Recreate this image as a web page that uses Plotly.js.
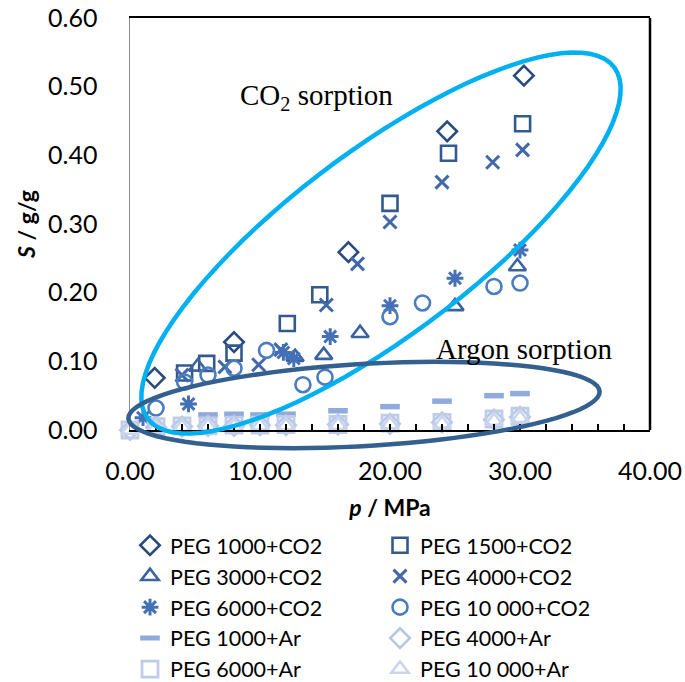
<!DOCTYPE html>
<html>
<head>
<meta charset="utf-8">
<script src="https://cdn.plot.ly/plotly-3.0.1.min.js"></script>
<style>html,body{margin:0;padding:0;background:#fff;}#chart{width:685px;height:682px;}</style>
</head>
<body>
<div id="chart"></div>
<script>
// ---- data (p in MPa, S in g/g) ----
const peg1000co2_p = [1.9, 8.0, 16.8, 24.4, 30.3];
const peg1000co2_s = [0.076, 0.128, 0.259, 0.435, 0.516];

const peg1500co2_p = [4.2, 5.9, 8.0, 12.1, 14.6, 20.0, 24.5, 30.2];
const peg1500co2_s = [0.083, 0.097, 0.112, 0.155, 0.197, 0.330, 0.403, 0.446];

const peg3000co2_p = [5.2, 12.7, 14.9, 17.7, 25.0, 29.8];
const peg3000co2_s = [0.092, 0.106, 0.109, 0.141, 0.180, 0.238];

const peg4000co2_p = [4.0, 7.3, 9.9, 11.6, 15.1, 17.5, 20.0, 24.0, 27.9, 30.2];
const peg4000co2_s = [0.080, 0.092, 0.095, 0.117, 0.182, 0.242, 0.303, 0.361, 0.390, 0.408];

const peg6000co2_p = [1.0, 4.5, 11.8, 12.6, 15.4, 20.0, 25.0, 30.0];
const peg6000co2_s = [0.018, 0.038, 0.113, 0.104, 0.136, 0.181, 0.221, 0.262];

const peg10000co2_p = [2.0, 4.2, 6.0, 8.0, 10.5, 13.3, 15.0, 20.0, 22.5, 28.0, 30.0];
const peg10000co2_s = [0.032, 0.070, 0.080, 0.090, 0.116, 0.066, 0.077, 0.165, 0.185, 0.209, 0.214];

const peg1000ar_p = [6, 8, 10, 12, 16, 20, 24, 28, 30];
const peg1000ar_s = [0.022, 0.023, 0.022, 0.023, 0.028, 0.034, 0.042, 0.050, 0.053];

const ar_p = [0, 2, 4, 6, 8, 10, 12, 16, 20, 24, 28, 30];
const peg4000ar_s  = [0.000, 0.004, 0.005, 0.006, 0.006, 0.007, 0.007, 0.008, 0.009, 0.011, 0.015, 0.019];
const peg6000ar_s  = [0.000, 0.005, 0.006, 0.006, 0.007, 0.007, 0.008, 0.008, 0.010, 0.011, 0.016, 0.020];
const peg10000ar_s = [0.000, 0.003, 0.004, 0.005, 0.005, 0.006, 0.006, 0.007, 0.008, 0.009, 0.013, 0.017];

const seriesNames = ['PEG 1000+CO2', 'PEG 1500+CO2', 'PEG 3000+CO2', 'PEG 4000+CO2', 'PEG 6000+CO2',
  'PEG 10 000+CO2', 'PEG 1000+Ar', 'PEG 4000+Ar', 'PEG 6000+Ar', 'PEG 10 000+Ar'];
const xTickVals = [0, 10, 20, 30, 40];
const xTickText = ['0.00', '10.00', '20.00', '30.00', '40.00'];
const yTickVals = [0, 0.1, 0.2, 0.3, 0.4, 0.5, 0.6];
const yTickText = ['0.00', '0.10', '0.20', '0.30', '0.40', '0.50', '0.60'];
const annoTexts = ['CO<sub>2</sub> sorption', 'Argon sorption'];

// ---- styling ----
function tr(x, y, name, symbol, color, size, lw) {
  return {type: 'scatter', mode: 'markers', x: x, y: y, name: name, cliponaxis: false,
    marker: {symbol: symbol, size: size, color: color, line: {color: color, width: lw}}};
}
const data = [
  tr(peg1000co2_p, peg1000co2_s, seriesNames[0], 'diamond-open', '#2B4B7E', 15, 2.6),
  tr(peg1500co2_p, peg1500co2_s, seriesNames[1], 'square-open', '#335A8F', 15, 2.6),
  tr(peg3000co2_p, peg3000co2_s, seriesNames[2], 'triangle-up-open', '#3A63A0', 15, 2.6),
  tr(peg4000co2_p, peg4000co2_s, seriesNames[3], 'x-thin-open', '#4169AA', 13, 3),
  tr(peg6000co2_p, peg6000co2_s, seriesNames[4], 'asterisk-open', '#4470B5', 14, 3),
  tr(peg10000co2_p, peg10000co2_s, seriesNames[5], 'circle-open', '#4A7CC0', 15, 2.6),
  tr(peg1000ar_p, peg1000ar_s, seriesNames[6], 'line-ew-open', '#8FAADC', 14, 5.5),
  tr(ar_p, peg4000ar_s, seriesNames[7], 'diamond-open', '#B4C7E7', 15, 2.6),
  tr(ar_p, peg6000ar_s, seriesNames[8], 'square-open', '#BFCCE6', 16, 2.8),
  tr(ar_p, peg10000ar_s, seriesNames[9], 'triangle-up-open', '#C9D5EC', 15, 2.6)
];

// plot area in pixels
const L = 130, R = 650, T = 18, B = 430, W = 685, H = 682;
const PW = R - L, PH = B - T;
function ellipsePath(cx, cy, a, b, angDeg) {
  const th = angDeg * Math.PI / 180, n = 90;
  let s = '';
  for (let i = 0; i <= n; i++) {
    const t = 2 * Math.PI * i / n;
    const px = cx + a * Math.cos(t) * Math.cos(th) - b * Math.sin(t) * Math.sin(th);
    const py = cy + a * Math.cos(t) * Math.sin(th) + b * Math.sin(t) * Math.cos(th);
    const X = (px - L) / PW, Y = (B - py) / PH;
    s += (i === 0 ? 'M' : 'L') + X.toFixed(5) + ',' + Y.toFixed(5);
  }
  return s + 'Z';
}

const tickFont = {family: 'Lato, "Open Sans", sans-serif', size: 25, color: '#000'};
const layout = {
  width: W, height: H,
  margin: {l: L, r: W - R, t: T, b: H - B, autoexpand: false},
  paper_bgcolor: '#fff', plot_bgcolor: '#fff',
  showlegend: true,
  xaxis: {
    range: [0, 40], tickvals: xTickVals, ticktext: xTickText, tickfont: tickFont,
    showgrid: false, zeroline: false, showline: true, linecolor: '#000', linewidth: 2, mirror: true,
    ticks: 'inside', ticklen: 6, tickwidth: 1.2, tickcolor: '#000', ticklabelstandoff: 18,
    minor: {dtick: 2, ticks: 'inside', ticklen: 6, tickwidth: 1.2, tickcolor: '#000', showgrid: false},
    title: {text: '<b><i>p</i> / MPa</b>', font: {family: 'Lato, sans-serif', size: 23, color: '#000'}, standoff: 16},
    automargin: false, fixedrange: true
  },
  yaxis: {
    range: [0, 0.6], tickvals: yTickVals, ticktext: yTickText, tickfont: tickFont,
    showgrid: false, zeroline: false, showline: true, linecolor: '#8C8C8C', linewidth: 1.5,
    ticks: '', ticklabelstandoff: 26,
    title: {text: '<b><i>S</i> / g/g</b>', font: {family: 'Lato, sans-serif', size: 23, color: '#000'}, standoff: 6},
    automargin: false, fixedrange: true
  },
  legend: {
    orientation: 'h', x: 0, xanchor: 'left', y: -0.23, yanchor: 'top',
    font: {family: 'Lato, "Open Sans", sans-serif', size: 21.5, color: '#000'},
    entrywidth: 205, entrywidthmode: 'pixels', tracegroupgap: 0, itemwidth: 30,
    bgcolor: 'rgba(0,0,0,0)', borderwidth: 0
  },
  shapes: [
    {type: 'line', xref: 'paper', yref: 'paper', x0: 1, x1: 1, y0: 0, y1: 1, line: {color: '#000', width: 2.5}},
    {type: 'path', xref: 'paper', yref: 'paper', path: ellipsePath(381, 243, 292, 92, -37), line: {color: '#00B0F0', width: 4.5}},
    {type: 'path', xref: 'paper', yref: 'paper', path: ellipsePath(364, 405, 236, 41, -3.3), line: {color: '#34608F', width: 4.5}}
  ],
  annotations: [
    {text: annoTexts[0], xref: 'paper', yref: 'paper', x: (238 - L) / PW, y: (B - 97) / PH, xanchor: 'left', yanchor: 'middle',
      showarrow: false, font: {family: '"Liberation Serif", "Times New Roman", serif', size: 29, color: '#000'}},
    {text: annoTexts[1], xref: 'paper', yref: 'paper', x: (434 - L) / PW, y: (B - 349) / PH, xanchor: 'left', yanchor: 'middle',
      showarrow: false, font: {family: '"Liberation Serif", "Times New Roman", serif', size: 29, color: '#000'}}
  ]
};

Plotly.newPlot('chart', data, layout, {staticPlot: true, displayModeBar: false});
</script>
</body>
</html>
